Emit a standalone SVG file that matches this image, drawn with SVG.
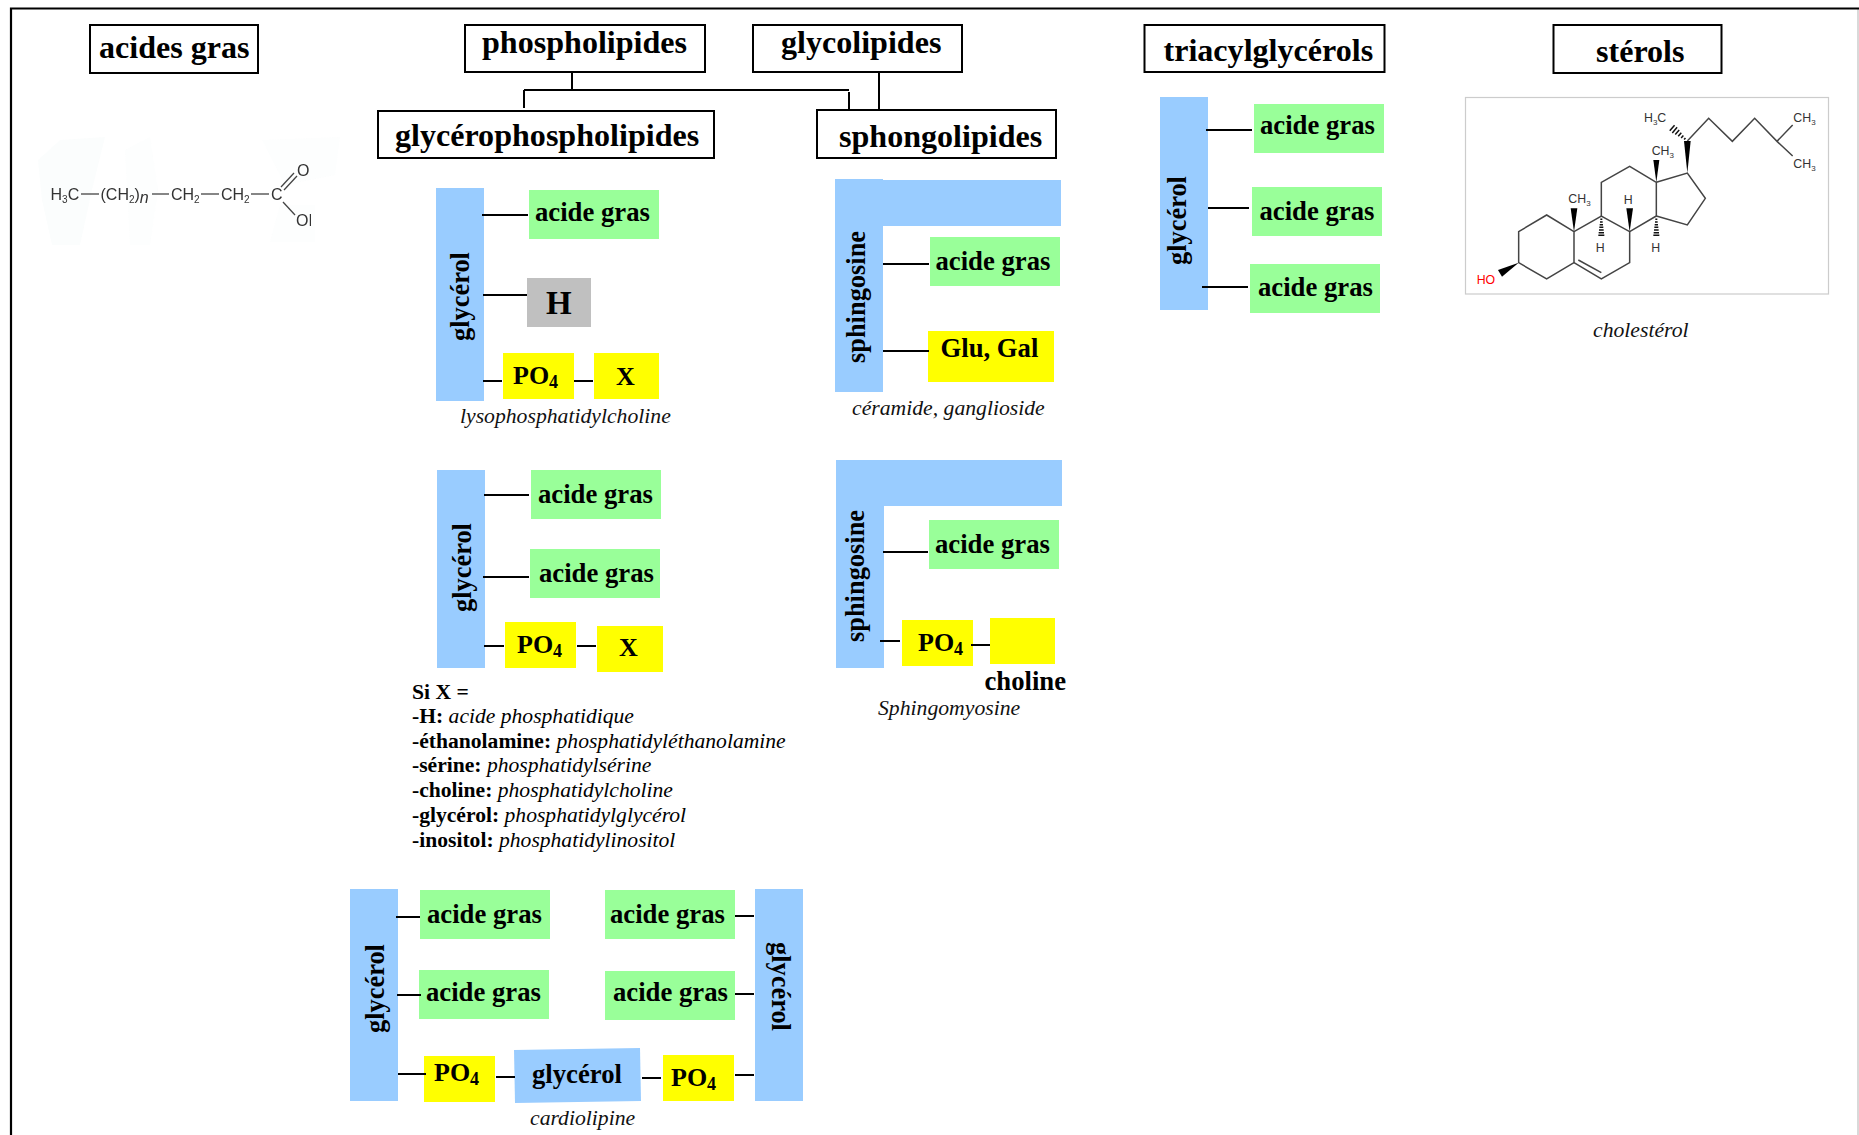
<svg xmlns="http://www.w3.org/2000/svg" width="1859" height="1135" viewBox="0 0 1859 1135">
<style>
text{font-family:"Liberation Serif","Times New Roman",serif;fill:#000}
.title{font-size:32.100px;font-weight:bold}
.b{font-size:26.700px;font-weight:bold}
.v{font-size:26.400px;font-weight:bold}
.po{font-size:26px;font-weight:bold}
.sub{font-size:18px}
.cap{font-size:21.700px;font-style:italic;fill:#111}
.list{font-size:21.600px;font-weight:bold}
.list tspan{font-weight:normal;font-style:italic}
.box{fill:#fff;stroke:#000;stroke-width:2}
.blue{fill:#99ccff}.green{fill:#99ff99}.yellow{fill:#ffff00}.gray{fill:#c0c0c0}
#connectors line{stroke:#000;stroke-width:2;fill:none}
.mol text{font-family:"Liberation Sans",Arial,sans-serif;fill:#333}
.acid text{font-size:16px}
.acid .s{font-size:10px}
.acid line{stroke:#444;stroke-width:1.3}
.ch text{font-size:37px}
.ch .s{font-size:24px}
.ch path{fill:none;stroke:#444;stroke-width:4.5;stroke-linejoin:miter}
.ch polygon{fill:#000}
.ch path.hash{stroke:#111;stroke-width:4.500}
</style>
<defs>
<clipPath id="cutOH"><rect x="290" y="205" width="21" height="30"/></clipPath>
</defs>
<rect width="1859" height="1135" fill="#fff"/>
<g id="frame">
<path d="M1858,9V1135" fill="none" stroke="#ccc" stroke-width="1.5"/>
<path d="M11,1135V8.500H1859" fill="none" stroke="#000" stroke-width="2.200"/>
</g>

<g id="t-acides"><rect class="box" x="90" y="25" width="168" height="48"/><text class="title" x="99" y="58">acides gras</text></g>
<g id="t-phospho"><rect class="box" x="465" y="25" width="240" height="47"/><text class="title" x="482" y="53">phospholipides</text></g>
<g id="t-glyco"><rect class="box" x="753" y="25" width="209" height="47"/><text class="title" x="781" y="53">glycolipides</text></g>
<g id="t-tag"><rect class="box" x="1144.500" y="25" width="240" height="47"/><text class="title" x="1163.500" y="61">triacylglycérols</text></g>
<g id="t-sterols"><rect class="box" x="1553.500" y="25" width="168" height="48"/><text class="title" x="1596" y="62">stérols</text></g>
<g id="t-gpl"><rect class="box" x="378" y="111" width="336" height="47"/><text class="title" x="395" y="146">glycérophospholipides</text></g>
<g id="t-sph"><rect class="box" x="817" y="110" width="239" height="48"/><text class="title" x="839" y="147">sphongolipides</text></g>

<g id="fatty-acid" class="mol acid">
<g fill="#f8fbfb" opacity=".55">
<path d="M38,160L60,140L105,137L92,190L80,245H52L42,200Z"/>
<path d="M125,150L150,137L158,190L150,245H130Z" opacity=".5"/>
<path d="M262,140L340,137L335,175L285,185Z" opacity=".6"/>
<path d="M280,205H315V242H270Z" opacity=".5"/>
</g>
<text x="50.500" y="200">H<tspan class="s" dy="3">3</tspan><tspan dy="-3">C</tspan></text>
<line x1="81" y1="194" x2="99" y2="194"/>
<text x="100.500" y="200">(CH<tspan class="s" dy="3">2</tspan><tspan dy="-3">)</tspan><tspan font-style="italic" dy="3">n</tspan></text>
<line x1="152" y1="194" x2="169" y2="194"/>
<text x="171" y="200">CH<tspan class="s" dy="3">2</tspan></text>
<line x1="201" y1="194" x2="219" y2="194"/>
<text x="221" y="200">CH<tspan class="s" dy="3">2</tspan></text>
<line x1="251" y1="194" x2="269" y2="194"/>
<text x="271" y="200">C</text>
<line x1="281" y1="187" x2="294" y2="173"/><line x1="284" y1="190" x2="297" y2="176"/>
<line x1="283" y1="202" x2="295" y2="215"/>
<text x="297" y="176">O</text>
<text x="296" y="226" clip-path="url(#cutOH)">OH</text>
</g>

<g id="lyso">
<rect class="blue" x="436" y="188" width="48" height="213"/>
<text class="v" transform="translate(469,341) rotate(-90)">glycérol</text>
<rect class="green" x="529" y="190" width="130" height="49"/><text class="b" x="535" y="221">acide gras</text>
<rect class="gray" x="527" y="278" width="64" height="49"/><text font-size="33" font-weight="bold" x="546" y="314">H</text>
<rect class="yellow" x="503" y="353" width="71" height="46"/><text class="po" x="513" y="384">PO<tspan class="sub" dy="4">4</tspan></text>
<rect class="yellow" x="594" y="353" width="65" height="46"/><text class="po" x="616" y="385">X</text>
<text class="cap" x="460" y="423">lysophosphatidylcholine</text>
</g>

<g id="diacyl">
<rect class="blue" x="437" y="470" width="48" height="198"/>
<text class="v" transform="translate(471,612) rotate(-90)">glycérol</text>
<rect class="green" x="531" y="470" width="130" height="49"/><text class="b" x="538" y="503">acide gras</text>
<rect class="green" x="530" y="549" width="130" height="49"/><text class="b" x="539" y="582">acide gras</text>
<rect class="yellow" x="505" y="622" width="71" height="46"/><text class="po" x="517" y="653">PO<tspan class="sub" dy="4">4</tspan></text>
<rect class="yellow" x="597" y="626" width="66" height="46"/><text class="po" x="619" y="656">X</text>
</g>

<g id="x-list" class="list">
<text class="list" x="412" y="699">Si X =</text>
<text class="list" x="412" y="723">-H: <tspan>acide phosphatidique</tspan></text>
<text class="list" x="412" y="748">-éthanolamine: <tspan>phosphatidyléthanolamine</tspan></text>
<text class="list" x="412" y="772">-sérine: <tspan>phosphatidylsérine</tspan></text>
<text class="list" x="412" y="797">-choline: <tspan>phosphatidylcholine</tspan></text>
<text class="list" x="412" y="822">-glycérol: <tspan>phosphatidylglycérol</tspan></text>
<text class="list" x="412" y="847">-inositol: <tspan>phosphatidylinositol</tspan></text>
</g>

<g id="ceramide">
<path class="blue" d="M835,179H883V180H1061V226H883V392H835Z"/>
<text class="v" transform="translate(865,363) rotate(-90)">sphingosine</text>
<rect class="green" x="930" y="237" width="130" height="49"/><text class="b" x="935.500" y="270">acide gras</text>
<rect class="yellow" x="928" y="331" width="126" height="51"/><text class="b" x="940.500" y="357">Glu, Gal</text>
<text class="cap" x="852" y="415">céramide, ganglioside</text>
</g>

<g id="sphingomyeline">
<path class="blue" d="M836,460H1062V506H884V668H836Z"/>
<text class="v" transform="translate(864,642) rotate(-90)">sphingosine</text>
<rect class="green" x="929" y="520" width="130" height="49"/><text class="b" x="935" y="553">acide gras</text>
<rect class="yellow" x="902" y="620" width="71" height="46"/><text class="po" x="918" y="651">PO<tspan class="sub" dy="4">4</tspan></text>
<rect class="yellow" x="990" y="618" width="65" height="46"/>
<text class="b" x="984.500" y="690">choline</text>
<text class="cap" x="878" y="715">Sphingomyosine</text>
</g>

<g id="triacyl">
<rect class="blue" x="1160" y="97" width="48" height="213"/>
<text class="v" transform="translate(1186,265) rotate(-90)">glycérol</text>
<rect class="green" x="1254" y="104" width="130" height="49"/><text class="b" x="1260" y="134">acide gras</text>
<rect class="green" x="1252" y="187" width="130" height="49"/><text class="b" x="1259.500" y="220">acide gras</text>
<rect class="green" x="1250" y="264" width="130" height="49"/><text class="b" x="1258" y="296">acide gras</text>
</g>

<g id="cholesterol">
<rect x="1465.500" y="97.500" width="363" height="196.500" fill="#fff" stroke="#ccc" stroke-width="1.200"/>
<g class="mol ch" transform="translate(1440,80) scale(.33333)">
<path d="M236,455L320,405L402,455L402,548L320,597L236,548Z"/>
<path d="M402,455L484,408L569,455L569,548L484,597L402,548"/>
<path d="M415,540L484,578"/>
<path d="M484,408L484,307L569,259L649,307L649,408L569,455"/>
<path d="M649,307L742,279L796,355L742,435L649,408"/>
<path d="M742,183L806,115L877,184L944,115L1011,184L1058,135M1011,184L1058,228"/>
<polygon points="742,279 732,183 752,183"/>
<polygon points="649,307 640,240 658,240"/>
<polygon points="402,455 392,385 412,385"/>
<polygon points="569,455 559,385 579,385"/>
<polygon points="236,548 174,570 186,590"/>
<path class="hash" d="M481,418H487M480,426H488M479,434H489M478,442H490M477,450H491M476,458H492M475,466H493"/>
<path class="hash" d="M646,418H652M645,426H653M644,434H654M643,442H655M642,450H656M641,458H657M640,466H658"/>
<path class="hash" d="M732.400,178.800L736.400,174.200M723.500,173.800L730.100,166.200M714.700,168.700L723.900,158.100M705.800,163.700L717.600,150.100M696.900,158.700L711.300,142.100M689.300,152.200L703.700,135.600"/>
<text x="612" y="127">H<tspan class="s" dy="8">3</tspan><tspan dy="-8">C</tspan></text>
<text x="1060" y="127">CH<tspan class="s" dy="8">3</tspan></text>
<text x="1060" y="265">CH<tspan class="s" dy="8">3</tspan></text>
<text x="635" y="225">CH<tspan class="s" dy="8">3</tspan></text>
<text x="385" y="370">CH<tspan class="s" dy="8">3</tspan></text>
<text x="551" y="372">H</text>
<text x="467" y="515">H</text>
<text x="634" y="515">H</text>
<text x="110" y="612" style="fill:#f00">HO</text>
</g>
<text class="cap" x="1593" y="337">cholestérol</text>
</g>

<g id="cardiolipine">
<rect class="blue" x="350" y="889" width="48" height="212"/>
<text class="v" transform="translate(384,1033) rotate(-90)">glycérol</text>
<rect class="green" x="420" y="890" width="130" height="49"/><text class="b" x="427" y="923">acide gras</text>
<rect class="green" x="419" y="970" width="130" height="49"/><text class="b" x="426" y="1001">acide gras</text>
<rect class="yellow" x="424" y="1056" width="71" height="46"/><text class="po" x="434" y="1081">PO<tspan class="sub" dy="4">4</tspan></text>
<polygon class="blue" points="514,1050 640,1048 641,1101 515,1103"/><text class="b" x="532" y="1083">glycérol</text>
<rect class="yellow" x="663" y="1055" width="71" height="46"/><text class="po" x="671" y="1086">PO<tspan class="sub" dy="4">4</tspan></text>
<rect class="green" x="605" y="890" width="130" height="49"/><text class="b" x="610" y="923">acide gras</text>
<rect class="green" x="605" y="971" width="130" height="49"/><text class="b" x="613" y="1001">acide gras</text>
<rect class="blue" x="755" y="889" width="48" height="212"/>
<text class="v" transform="translate(772,942) rotate(90)">glycérol</text>
<text class="cap" x="530" y="1125">cardiolipine</text>
</g>

<g id="connectors">
<line x1="572" y1="73" x2="572" y2="90"/>
<line x1="524" y1="90" x2="849" y2="90"/>
<line x1="524" y1="90" x2="524" y2="108"/>
<line x1="849" y1="92" x2="849" y2="109"/>
<line x1="879" y1="72" x2="879" y2="110"/>
<line x1="482" y1="215" x2="528" y2="215"/>
<line x1="483" y1="295" x2="527" y2="295"/>
<line x1="483" y1="381" x2="502" y2="381"/>
<line x1="574" y1="381" x2="593" y2="381"/>
<line x1="484" y1="495" x2="529" y2="495"/>
<line x1="483" y1="577" x2="529" y2="577"/>
<line x1="484" y1="646" x2="504" y2="646"/>
<line x1="577" y1="646" x2="596" y2="646"/>
<line x1="883" y1="264" x2="929" y2="264"/>
<line x1="883" y1="351" x2="929" y2="351"/>
<line x1="883" y1="552" x2="928" y2="552"/>
<line x1="880" y1="641" x2="900" y2="641"/>
<line x1="971" y1="645" x2="990" y2="645"/>
<line x1="1206" y1="130" x2="1252" y2="130"/>
<line x1="1208" y1="208" x2="1249" y2="208"/>
<line x1="1202" y1="287" x2="1248" y2="287"/>
<line x1="396" y1="917" x2="420" y2="917"/>
<line x1="397" y1="995" x2="421" y2="995"/>
<line x1="398" y1="1074" x2="426" y2="1074"/>
<line x1="496" y1="1077" x2="515" y2="1077"/>
<line x1="642" y1="1078" x2="661" y2="1078"/>
<line x1="735" y1="1075" x2="754" y2="1075"/>
<line x1="735" y1="916" x2="754" y2="916"/>
<line x1="735" y1="994" x2="754" y2="994"/>
</g>
</svg>
